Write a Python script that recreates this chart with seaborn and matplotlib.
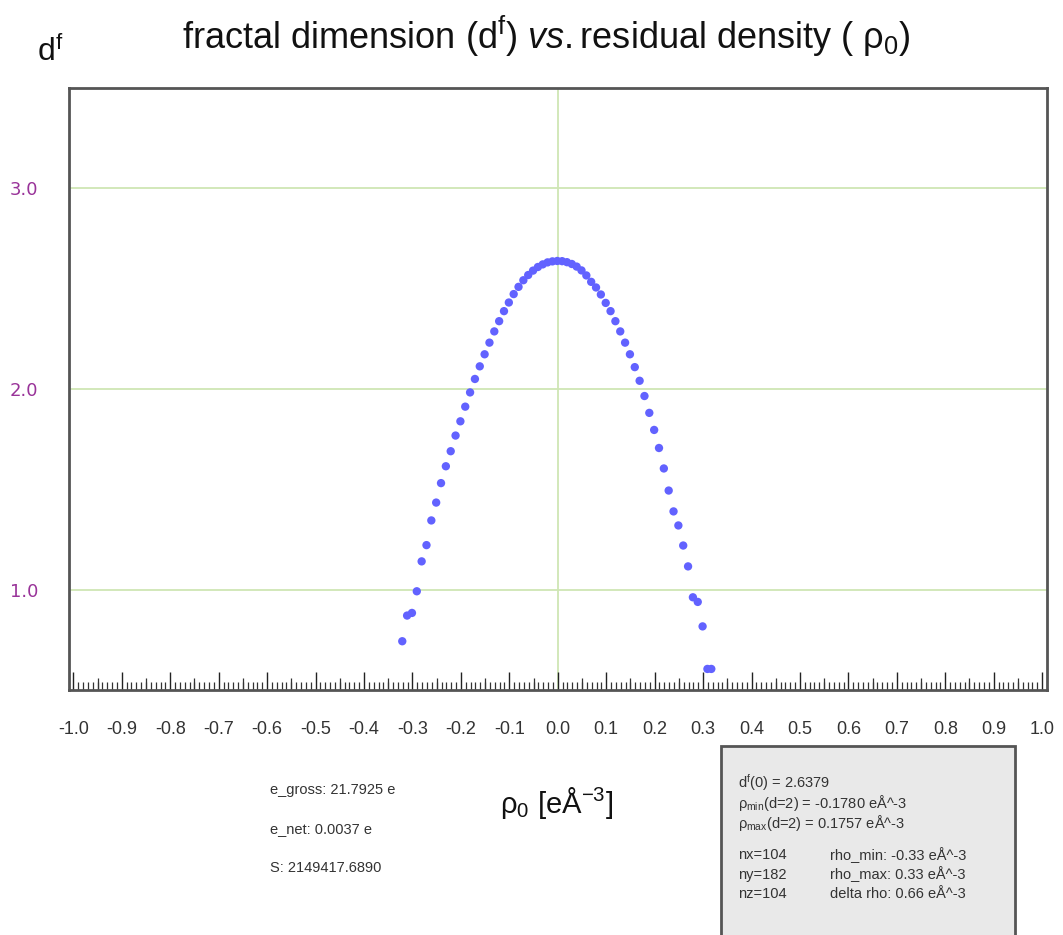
import matplotlib
matplotlib.use("Agg")
import matplotlib.pyplot as plt
import seaborn as sns
import pandas as pd
from matplotlib.patches import Rectangle

# ---- data ----
rho0 = [-0.321, -0.311, -0.301, -0.291, -0.281, -0.271, -0.261, -0.251, -0.241, -0.231,
        -0.221, -0.211, -0.201, -0.191, -0.181, -0.171, -0.161, -0.151, -0.141, -0.131,
        -0.121, -0.111, -0.101, -0.091, -0.081, -0.071, -0.061, -0.051, -0.041, -0.031,
        -0.021, -0.011, -0.001, 0.009, 0.019, 0.029, 0.039, 0.049, 0.059, 0.069,
        0.079, 0.089, 0.099, 0.109, 0.119, 0.129, 0.139, 0.149, 0.159, 0.169,
        0.179, 0.189, 0.199, 0.209, 0.219, 0.229, 0.239, 0.249, 0.259, 0.269,
        0.279, 0.289, 0.299, 0.309, 0.317]
dfrac = [0.743, 0.871, 0.884, 0.992, 1.141, 1.222, 1.345, 1.434, 1.531, 1.615,
         1.690, 1.768, 1.839, 1.912, 1.983, 2.050, 2.113, 2.173, 2.231, 2.287,
         2.338, 2.388, 2.431, 2.473, 2.509, 2.542, 2.568, 2.590, 2.608, 2.621,
         2.631, 2.636, 2.638, 2.637, 2.632, 2.623, 2.610, 2.591, 2.566, 2.534,
         2.506, 2.471, 2.429, 2.388, 2.338, 2.287, 2.231, 2.173, 2.109, 2.041,
         1.965, 1.881, 1.796, 1.706, 1.604, 1.494, 1.390, 1.320, 1.220, 1.116,
         0.962, 0.939, 0.817, 0.605, 0.605]
x_ticks = [-1.0, -0.9, -0.8, -0.7, -0.6, -0.5, -0.4, -0.3, -0.2, -0.1, 0.0,
           0.1, 0.2, 0.3, 0.4, 0.5, 0.6, 0.7, 0.8, 0.9, 1.0]
y_ticks = [1.0, 2.0, 3.0]
grid_y = [1.0, 2.0, 3.0]
grid_x = [0.0]

left_info = ["e_gross: 21.7925 e", "e_net: 0.0037 e", "S: 2149417.6890"]
box_top = ["d$^{\\mathrm{f}}$(0) = 2.6379",
           "ρ$_{\\mathrm{min}}$(d=2) = -0.1780 eÅ^-3",
           "ρ$_{\\mathrm{max}}$(d=2) = 0.1757 eÅ^-3"]
box_left = ["nx=104", "ny=182", "nz=104"]
box_right = ["rho_min: -0.33 eÅ^-3", "rho_max: 0.33 eÅ^-3", "delta rho: 0.66 eÅ^-3"]

df = pd.DataFrame({"rho0": rho0, "df": dfrac})

sns.set_theme(style="white")
plt.rcParams['font.family'] = ['Liberation Sans', 'DejaVu Sans']
plt.rcParams['mathtext.fontset'] = 'custom'
plt.rcParams['mathtext.rm'] = 'Liberation Sans'
plt.rcParams['mathtext.it'] = 'Liberation Sans:italic'

W, H = 1063, 935
fig = plt.figure(figsize=(W / 100, H / 100), dpi=100)
ax = fig.add_axes([69 / W, 1 - 690 / H, (1047 - 69) / W, (690 - 88) / H])

for gy in grid_y:
    ax.axhline(gy, color="#cfe6b4", lw=1.3, zorder=0)
for gx in grid_x:
    ax.axvline(gx, color="#cfe6b4", lw=1.3, zorder=0)

sns.scatterplot(data=df, x="rho0", y="df", ax=ax, color="#6262ff",
                s=36, edgecolor="none", linewidth=0, zorder=3, legend=False)

ax.set_xlim(-1.009, 1.01)
ax.set_ylim(0.5, 3.5)
ax.set_xticks(x_ticks)
ax.set_xticklabels([f"{t:.1f}" for t in x_ticks])
ax.set_xticks([round(-1.0 + 0.01 * i, 2) for i in range(201)], minor=True)
ax.set_yticks(y_ticks)
ax.set_yticklabels([f"{t:.1f}" for t in y_ticks])
ax.tick_params(axis="x", which="major", direction="in", length=13, width=1.0,
               color="#222222", pad=22, labelsize=13, labelcolor="#333333",
               bottom=True, top=False)
ax.tick_params(axis="x", which="minor", direction="in", length=5.5, width=0.9,
               color="#333333", bottom=True, top=False)
ax.tick_params(axis="y", which="both", length=0, pad=22, labelsize=13,
               labelcolor="#993399", left=True)
for lab in ax.get_yticklabels():
    lab.set_family("DejaVu Sans")
ax.set_xlabel("")
ax.set_ylabel("")

# medium ticks at 0.05 offsets
sec = ax.secondary_xaxis("bottom")
sec.set_xticks([round(-0.95 + 0.1 * i, 2) for i in range(20)])
sec.set_xticklabels([])
sec.tick_params(direction="in", length=9, width=0.9, color="#333333")
sec.spines["bottom"].set_visible(False)

for sp in ax.spines.values():
    sp.set_color("#555555")
    sp.set_linewidth(2)

# titles and labels
fig.text(546 / W, 1 - 36 / H,
         "fractal dimension (d$^{\\mathrm{f}}$) $\\it{vs.}$residual density ( ρ$_{\\mathrm{0}}$)",
         ha="center", va="center", fontsize=26, color="#111111")
fig.text(50 / W, 1 - 52 / H, "d$^{\\mathrm{f}}$", ha="center", va="center",
         fontsize=23, color="#111111")
fig.text(557 / W, 1 - 803 / H, "ρ$_{\\mathrm{0}}$ [eÅ$^{\\mathrm{-3}}$]", ha="center",
         va="center", fontsize=21, color="#111111")

for i, t in enumerate(left_info):
    fig.text(270 / W, 1 - (790 + 39 * i) / H, t, ha="left", va="center",
             fontsize=10.5, color="#333333")

# info box
box = Rectangle((721 / W, 1 - 940 / H), (1015 - 721) / W, (940 - 746) / H,
                transform=fig.transFigure, facecolor="#e9e9e9",
                edgecolor="#555555", linewidth=2, zorder=1)
fig.patches.append(box)
for i, t in enumerate(box_top):
    fig.text(738 / W, 1 - (783 + 20 * i) / H, t, ha="left", va="center",
             fontsize=10.5, color="#333333", zorder=2)
for i, t in enumerate(box_left):
    fig.text(738 / W, 1 - (855 + 19.5 * i) / H, t, ha="left", va="center",
             fontsize=10.5, color="#333333", zorder=2)
for i, t in enumerate(box_right):
    fig.text(830 / W, 1 - (855 + 19.5 * i) / H, t, ha="left", va="center",
             fontsize=10.5, color="#333333", zorder=2)

fig.savefig("out.png", dpi=100, facecolor="white")
